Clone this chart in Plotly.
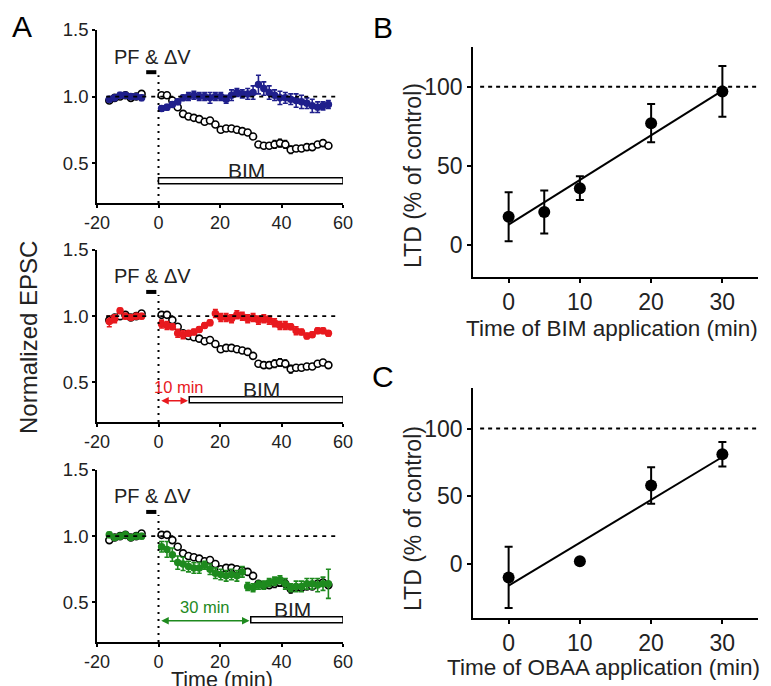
import plotly.graph_objects as go

# ---- panel A: normalized EPSC time courses (min) ----
time_min = [-16, -14.25, -12.5, -10.75, -9, -7.25, -5.5,
            1, 2.75, 4.5, 6.25, 8, 9.75, 11.5, 13.25, 15, 16.75,
            18.5, 20.25, 22, 23.75, 25.5, 27.25, 29, 30.75, 32.5, 34.25,
            36, 37.75, 39.5, 41.25, 43, 44.75, 46.5, 48.25, 50, 51.75, 53.5, 55.25]

control_epsc = [0.97, 0.99, 1.00, 1.01, 0.99, 1.00, 1.02,
                1.01, 1.01, 0.97, 0.92, 0.87, 0.85, 0.84, 0.83, 0.81, 0.82,
                0.79, 0.75, 0.76, 0.76, 0.75, 0.74, 0.73, 0.70, 0.64, 0.63,
                0.63, 0.64, 0.65, 0.64, 0.60, 0.61, 0.61, 0.62, 0.62, 0.64, 0.65, 0.63]
control_err = [0.02, 0.01, 0.01, 0.01, 0.01, 0.01, 0.01,
               0.02, 0.02, 0.02, 0.02, 0.02, 0.02, 0.02, 0.02, 0.02, 0.02,
               0.02, 0.02, 0.02, 0.02, 0.02, 0.02, 0.02, 0.02, 0.02, 0.02,
               0.02, 0.03, 0.03, 0.03, 0.03, 0.02, 0.02, 0.02, 0.02, 0.02, 0.02, 0.02]

bim0_epsc = [0.98, 0.99, 1.01, 1.01, 1.00, 1.00, 0.99,
             0.91, 0.92, 0.94, 0.96, 0.99, 1.00, 1.01, 1.00, 1.00, 0.99,
             1.00, 1.00, 0.98, 1.01, 1.03, 1.02, 1.02, 1.03, 1.09, 1.06,
             1.03, 1.01, 0.99, 0.99, 0.98, 0.97, 0.96, 0.95, 0.93, 0.92, 0.93, 0.94]
bim0_err = [0.02, 0.02, 0.02, 0.02, 0.02, 0.02, 0.02,
            0.02, 0.02, 0.02, 0.02, 0.02, 0.03, 0.03, 0.03, 0.03, 0.04,
            0.03, 0.03, 0.03, 0.04, 0.03, 0.03, 0.04, 0.05, 0.07, 0.05,
            0.05, 0.04, 0.05, 0.04, 0.04, 0.05, 0.05, 0.04, 0.05, 0.04, 0.03, 0.03]

bim10_epsc = [0.96, 0.98, 1.04, 1.00, 0.99, 1.00, 1.00,
              0.94, 0.93, 0.92, 0.87, 0.86, 0.87, 0.88, 0.90, 0.93, 0.95,
              1.02, 0.99, 0.99, 0.98, 1.01, 1.00, 0.98, 0.99, 0.97, 0.98,
              0.97, 0.95, 0.93, 0.93, 0.92, 0.89, 0.88, 0.85, 0.86, 0.89, 0.89, 0.87]
bim10_err = [0.04, 0.03, 0.02, 0.02, 0.02, 0.02, 0.02,
             0.03, 0.03, 0.02, 0.03, 0.03, 0.02, 0.02, 0.02, 0.02, 0.02,
             0.03, 0.03, 0.03, 0.03, 0.03, 0.03, 0.03, 0.03, 0.03, 0.03,
             0.03, 0.03, 0.03, 0.03, 0.02, 0.03, 0.02, 0.02, 0.02, 0.02, 0.02, 0.02]

bim30_epsc = [1.01, 0.99, 1.00, 1.01, 0.99, 1.00, 1.00,
              0.92, 0.90, 0.86, 0.80, 0.79, 0.77, 0.76, 0.76, 0.78, 0.75,
              0.72, 0.71, 0.70, 0.71, 0.70, 0.73, 0.62, 0.61, 0.63, 0.63,
              0.65, 0.66, 0.67, 0.64, 0.61, 0.62, 0.62, 0.64, 0.64, 0.63, 0.64, 0.64]
bim30_err = [0.02, 0.02, 0.02, 0.02, 0.02, 0.02, 0.02,
             0.04, 0.06, 0.05, 0.05, 0.05, 0.04, 0.04, 0.04, 0.03, 0.04,
             0.04, 0.04, 0.04, 0.04, 0.04, 0.04, 0.03, 0.03, 0.03, 0.03,
             0.03, 0.03, 0.03, 0.04, 0.03, 0.04, 0.04, 0.04, 0.04, 0.05, 0.05, 0.11]

bim_start = [0, 10, 30]
bim_end = 60

# ---- panel B: BIM application time vs LTD ----
b_time = [0, 5, 10, 20, 30]
b_ltd = [18, 21, 36, 77, 97]
b_err = [15.5, 13.5, 7.5, 12, 16]
b_fit_x = [0, 30]
b_fit_y = [13, 97.5]

# ---- panel C: OBAA application time vs LTD ----
c_time = [0, 10, 20, 30]
c_ltd = [-10, 2, 58, 81]
c_err = [22.6, 0, 13.5, 9]
c_fit_x = [0, 30]
c_fit_y = [-16, 79]

FONT = "Liberation Sans, Arial, sans-serif"
OFF = 8  # page body margin
W, H = 771 - OFF, 686 - OFF
blue = "#1f1f8c"
red = "#e8191e"
green = "#1e8a1e"
TXT = "#222"


def px(x):
    return (x - OFF) / W


def py(y):
    return 1 - (y - OFF) / H


fig = go.Figure()

panelsA = [("x", "y", bim0_epsc, bim0_err, blue),
           ("x2", "y2", bim10_epsc, bim10_err, red),
           ("x3", "y3", bim30_epsc, bim30_err, green)]

for xr, yr, vals, errs, col in panelsA:
    fig.add_trace(go.Scatter(
        x=time_min, y=control_epsc, xaxis=xr, yaxis=yr, mode="markers",
        marker=dict(symbol="circle", size=7, color="white",
                    line=dict(color="black", width=1.6)),
        error_y=dict(type="data", array=control_err, color="black",
                     thickness=1.2, width=2),
        showlegend=False))
    fig.add_trace(go.Scatter(
        x=time_min, y=vals, xaxis=xr, yaxis=yr, mode="markers",
        marker=dict(symbol="circle", size=7.5, color=col),
        error_y=dict(type="data", array=errs, color=col, thickness=1.6, width=2.5),
        showlegend=False))

# panel B / C
for xr, yr, tx, ty, te, fx, fy in [("x4", "y4", b_time, b_ltd, b_err, b_fit_x, b_fit_y),
                                    ("x5", "y5", c_time, c_ltd, c_err, c_fit_x, c_fit_y)]:
    fig.add_trace(go.Scatter(x=fx, y=fy, xaxis=xr, yaxis=yr, mode="lines",
                             line=dict(color="black", width=2), showlegend=False))
    fig.add_trace(go.Scatter(
        x=tx, y=ty, xaxis=xr, yaxis=yr, mode="markers",
        marker=dict(size=12, color="black"),
        error_y=dict(type="data", array=te, color="black", thickness=2, width=4),
        showlegend=False))

axis_common = dict(showline=True, linecolor="black", linewidth=1.6, ticks="outside",
                   ticklen=4, tickwidth=1.6, tickcolor="black", showgrid=False,
                   zeroline=False, mirror=False, automargin=False)

a_xdom = [px(97), px(343)]
a_ydoms = [[py(203), py(30)], [py(422), py(250)], [py(642), py(470)]]

layout = dict(
    template="none",
    width=W, height=H, margin=dict(l=0, r=0, t=0, b=0, pad=0, autoexpand=False),
    plot_bgcolor="white", paper_bgcolor="white",
    font=dict(family=FONT, color=TXT),
    showlegend=False,
)

for i, (xr, yr, _, _, _) in enumerate(panelsA):
    xn = "xaxis" if i == 0 else "xaxis%d" % (i + 1)
    yn = "yaxis" if i == 0 else "yaxis%d" % (i + 1)
    layout[xn] = dict(axis_common, domain=a_xdom, range=[-20, 60], anchor=yr, ticklen=3,
                      tickvals=[-20, 0, 20, 40, 60], ticktext=["-20", "0", "20", "40", "60"],
                      tickfont=dict(size=18, color=TXT))
    layout[yn] = dict(axis_common, domain=a_ydoms[i], range=[0.2, 1.5], anchor=xr, ticklen=3,
                      tickvals=[0.5, 1.0, 1.5], ticktext=["0.5", "1.0", "1.5"],
                      tickfont=dict(size=18.5, color=TXT))

bc_xdom = [px(473), px(758)]
bc_tick = dict(ticklen=4, tickfont=dict(size=23, color=TXT))
layout["xaxis4"] = dict(axis_common, domain=bc_xdom, range=[-5, 35], anchor="y4",
                        tickvals=[0, 10, 20, 30], **bc_tick)
layout["yaxis4"] = dict(axis_common, domain=[py(277), py(47)], range=[-20, 125], anchor="x4",
                        tickvals=[0, 50, 100], **bc_tick)
layout["xaxis5"] = dict(axis_common, domain=bc_xdom, range=[-5, 35], anchor="y5",
                        tickvals=[0, 10, 20, 30], **bc_tick)
layout["yaxis5"] = dict(axis_common, domain=[py(618), py(388)], range=[-40, 130], anchor="x5",
                        tickvals=[0, 50, 100], **bc_tick)

fig.update_layout(layout)

shapes = []
annotations = []
ctr = dict(xanchor="center", yanchor="middle", showarrow=False)
for i, (xr, yr, _, _, col) in enumerate(panelsA):
    shapes.append(dict(type="line", xref=xr, yref=yr, x0=-17, x1=58, y0=1, y1=1,
                       line=dict(color="black", width=1.8, dash="4px,5px")))
    shapes.append(dict(type="line", xref=xr, yref=yr, x0=0, x1=0, y0=0.2, y1=1.16,
                       line=dict(color="black", width=2, dash="2px,5px")))
    shapes.append(dict(type="line", xref=xr, yref=yr, x0=-4, x1=-0.7, y0=1.183, y1=1.183,
                       line=dict(color="black", width=4)))
    shapes.append(dict(type="rect", xref=xr, yref=yr, x0=bim_start[i], x1=bim_end,
                       y0=0.345, y1=0.39, fillcolor="white",
                       line=dict(color="black", width=1.5)))
    annotations.append(dict(ctr, xref=xr, yref=yr, x=-2.0, y=1.30, text="PF &amp; ΔV",
                            font=dict(size=20, color=TXT)))
    annotations.append(dict(ctr, xref=xr, yref=yr, x=(bim_start[i] + bim_end) / 2 - 1.5,
                            y=0.445, text="BIM", font=dict(size=21, color=TXT)))
    if bim_start[i] > 0:
        annotations.append(dict(ctr, xref=xr, yref=yr, x=bim_start[i] / 2 + 2.4 - bim_start[i] * 0.08,
                                y=0.465, text="%d min" % bim_start[i],
                                font=dict(size=16.5, color=col)))
        annotations.append(dict(xref=xr, yref=yr, axref=xr, ayref=yr,
                                x=bim_start[i] - 0.4, y=0.36, ax=0.4, ay=0.36, text="",
                                showarrow=True, arrowhead=2, startarrowhead=2,
                                arrowside="end+start", arrowsize=1, arrowwidth=1.5,
                                arrowcolor=col, standoff=0, startstandoff=0))

for x0, y0, t in [(22, 26, "A"), (383, 28, "B"), (383, 377, "C")]:
    annotations.append(dict(ctr, xref="paper", yref="paper", x=px(x0), y=py(y0), text=t,
                            font=dict(size=30, color="black")))

# dotted 100% lines in B and C
for xr, yr in [("x4", "y4"), ("x5", "y5")]:
    shapes.append(dict(type="line", xref=xr, yref=yr, x0=-4, x1=35, y0=100, y1=100,
                       line=dict(color="black", width=2, dash="4px,4px")))

# axis titles
annotations += [
    dict(ctr, xref="paper", yref="paper", x=px(28), y=py(338), text="Normalized EPSC",
         textangle=-90, font=dict(size=24, color=TXT)),
    dict(ctr, xref="paper", yref="paper", x=px(222), y=py(680), text="Time (min)",
         font=dict(size=21.5, color=TXT)),
    dict(ctr, xref="paper", yref="paper", x=px(413), y=py(176), text="LTD (% of control)",
         textangle=-90, font=dict(size=23, color=TXT)),
    dict(ctr, xref="paper", yref="paper", x=px(612), y=py(328),
         text="Time of BIM application (min)", font=dict(size=22.5, color=TXT)),
    dict(ctr, xref="paper", yref="paper", x=px(603), y=py(667),
         text="Time of OBAA application (min)", font=dict(size=22.5, color=TXT)),
    dict(ctr, xref="paper", yref="paper", x=px(413), y=py(519), text="LTD (% of control)",
         textangle=-90, font=dict(size=23, color=TXT)),
]

fig.update_layout(shapes=shapes, annotations=annotations)
fig.write_html("out.html")
